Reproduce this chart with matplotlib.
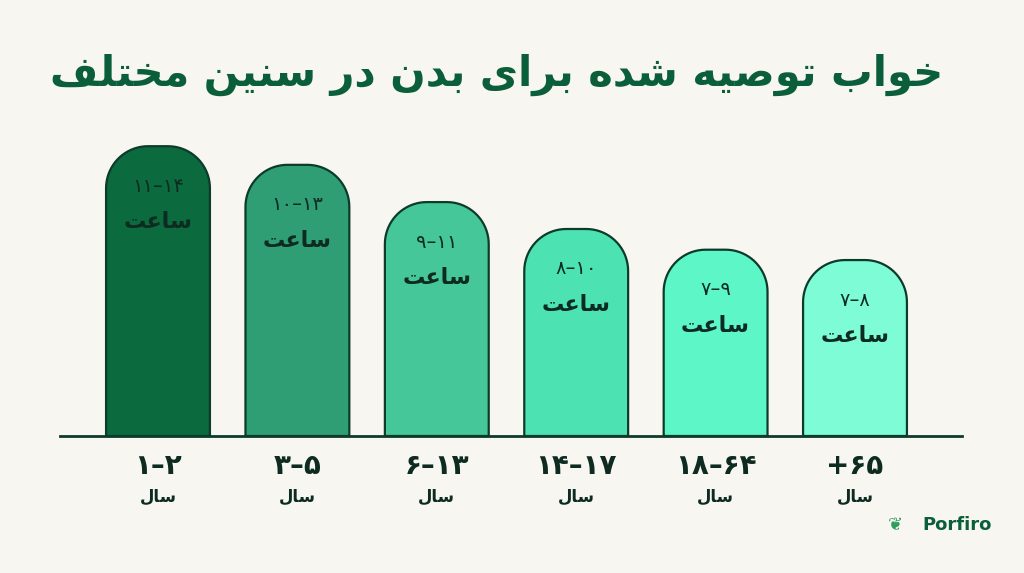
import matplotlib
matplotlib.use("Agg")
import matplotlib.pyplot as plt
import numpy as np
from matplotlib.path import Path
from matplotlib.patches import PathPatch

# ---- data ----
age_groups = ["۱–۲", "۳–۵", "۶–۱۳", "۱۴–۱۷", "۱۸–۶۴", "+۶۵"]
sleep_ranges = ["۱۱–۱۴", "۱۰–۱۳", "۹–۱۱", "۸–۱۰", "۷–۹", "۷–۸"]
bar_heights = [14.0, 13.1, 11.3, 10.0, 9.0, 8.5]
colors = ["#0b6b3e", "#2f9e74", "#45c79a", "#4ce2b1", "#5df6c7", "#7efcd6"]
title = "خواب توصیه شده برای بدن در سنین مختلف"
hour_word = "ساعت"
year_word = "سال"

# ---- minimal Arabic shaping (presentation forms) ----
FORMS = {
    'ا': (0xFE8D, 0xFE8E, None, None), 'ب': (0xFE8F, 0xFE90, 0xFE91, 0xFE92),
    'ت': (0xFE95, 0xFE96, 0xFE97, 0xFE98), 'خ': (0xFEA5, 0xFEA6, 0xFEA7, 0xFEA8),
    'د': (0xFEA9, 0xFEAA, None, None), 'ر': (0xFEAD, 0xFEAE, None, None),
    'س': (0xFEB1, 0xFEB2, 0xFEB3, 0xFEB4), 'ش': (0xFEB5, 0xFEB6, 0xFEB7, 0xFEB8),
    'ص': (0xFEB9, 0xFEBA, 0xFEBB, 0xFEBC), 'ع': (0xFEC9, 0xFECA, 0xFECB, 0xFECC),
    'ف': (0xFED1, 0xFED2, 0xFED3, 0xFED4), 'ل': (0xFEDD, 0xFEDE, 0xFEDF, 0xFEE0),
    'م': (0xFEE1, 0xFEE2, 0xFEE3, 0xFEE4), 'ن': (0xFEE5, 0xFEE6, 0xFEE7, 0xFEE8),
    'ه': (0xFEE9, 0xFEEA, 0xFEEB, 0xFEEC), 'و': (0xFEED, 0xFEEE, None, None),
    'ی': (0xFBFC, 0xFBFD, 0xFBFE, 0xFBFF),
}
def joins_after(c):
    return c in FORMS and FORMS[c][2] is not None
def shape_word(w):
    out = []
    for i, c in enumerate(w):
        if c not in FORMS:
            out.append(c); continue
        prev = w[i-1] if i > 0 else None
        nxt = w[i+1] if i < len(w)-1 else None
        jp = prev is not None and joins_after(prev)
        jn = nxt is not None and nxt in FORMS and joins_after(c)
        iso, fin, ini, med = FORMS[c]
        if jp and jn: f = med
        elif jp: f = fin
        elif jn: f = ini
        else: f = iso
        out.append(chr(f))
    return "".join(out)
def rtl(s):
    return " ".join(shape_word(w)[::-1] for w in s.split(" ")[::-1])

# ---- figure ----
bg = "#f8f6f1"
fig = plt.figure(figsize=(10.24, 5.73), dpi=100, facecolor=bg)
ax = fig.add_axes([0, 0, 1, 1])
ax.set_facecolor(bg)
ax.axis("off")
xs = 158 / 139.4
ax.set_xlim(-xs, (1024 - 158) / 139.4)
ax.set_ylim(-(573 - 436) / 20.7, 436 / 20.7)

edge = "#0d3b2b"
w = 0.745
rx, ry = 42 / 139.4, 42 / 20.7
for i, h in enumerate(bar_heights):
    x0, x1 = i - w / 2, i + w / 2
    t = np.linspace(np.pi, np.pi / 2, 20)
    left = np.c_[x0 + rx + rx * np.cos(t), h - ry + ry * np.sin(t)]
    t2 = np.linspace(np.pi / 2, 0, 20)
    right = np.c_[x1 - rx + rx * np.cos(t2), h - ry + ry * np.sin(t2)]
    pts = np.vstack([[x0, 0], left, right, [x1, 0], [x0, 0]])
    ax.add_patch(PathPatch(Path(pts), facecolor=colors[i], edgecolor=edge, lw=1.6, zorder=2))
    tc = "#0d2b20"
    ax.text(i, h - 40 / 20.7, sleep_ranges[i], ha="center", va="center",
            fontsize=14, color=tc, zorder=3, family="DejaVu Sans")
    ax.text(i, h - 76 / 20.7, rtl(hour_word), ha="center", va="center",
            fontsize=16, fontweight="bold", color=tc, zorder=3, family="DejaVu Sans")
    ax.text(i, -30 / 20.7, age_groups[i], ha="center", va="center",
            fontsize=20, fontweight="bold", color="#0d2b20", family="DejaVu Sans")
    ax.text(i, -61 / 20.7, rtl(year_word), ha="center", va="center",
            fontsize=12, fontweight="bold", color="#0d2b20", family="DejaVu Sans")

ax.plot([(60 - 158) / 139.4, (962 - 158) / 139.4], [0, 0], color=edge, lw=2, zorder=3)

ax.text((497 - 158) / 139.4, (436 - 75) / 20.7, rtl(title), ha="center", va="center",
        fontsize=30, fontweight="bold", color="#0b5e3a", family="DejaVu Sans")
ax.text((957 - 158) / 139.4, (436 - 525) / 20.7, "Porfiro", ha="center", va="center",
        fontsize=13, fontweight="bold", color="#0b5e3a", family="DejaVu Sans")
ax.text((895 - 158) / 139.4, (436 - 525) / 20.7, "❦", ha="center", va="center",
        fontsize=13, color="#2e9e5e", family="DejaVu Sans")

fig.savefig("out.png", dpi=100, facecolor=bg)
